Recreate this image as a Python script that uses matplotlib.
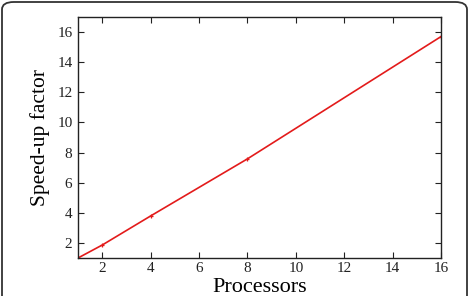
import matplotlib
matplotlib.use('Agg')
import matplotlib.pyplot as plt
from matplotlib.patches import FancyBboxPatch

# data
processors = [1, 2, 4, 8, 16]
speedup = [1.0, 1.86, 3.79, 7.58, 15.7]
x_ticks = [2, 4, 6, 8, 10, 12, 14, 16]
y_ticks = [2, 4, 6, 8, 10, 12, 14, 16]

plt.rcParams['font.family'] = ['Liberation Serif', 'DejaVu Serif']

W, H = 471, 296
fig = plt.figure(figsize=(W / 100, H / 100), dpi=100)
ax = fig.add_axes([78 / W, 1 - 258 / H, (441 - 78) / W, (258 - 17) / H])

ax.plot(processors, speedup, color='#e31b1b', lw=1.2, marker='+',
        markersize=3, markeredgewidth=0.9)

ax.set_xlim(1, 16)
ax.set_ylim(1, 17)
ax.set_xticks(x_ticks)
ax.set_yticks(y_ticks)
ax.tick_params(direction='in', top=True, right=True, length=4,
               width=0.8, labelsize=11, colors='#222222')
ax.tick_params(axis='y', pad=4)
ax.tick_params(axis='x', pad=3)
for s in ax.spines.values():
    s.set_linewidth(1.0)
    s.set_color('#222222')

ax.set_xlabel('Processors', fontsize=16, labelpad=2)
ax.set_ylabel('Speed-up factor', fontsize=15.5, labelpad=5)

# rounded frame around the figure (bottom edge cut off)
frame = FancyBboxPatch((2 / W, -30 / H), (465 / W), (H + 28) / H,
                       boxstyle='round,pad=0,rounding_size=0.025',
                       transform=fig.transFigure, fill=False,
                       edgecolor='#333333', lw=1.3, clip_on=False)
fig.patches.append(frame)

fig.savefig('out.png', dpi=100)
